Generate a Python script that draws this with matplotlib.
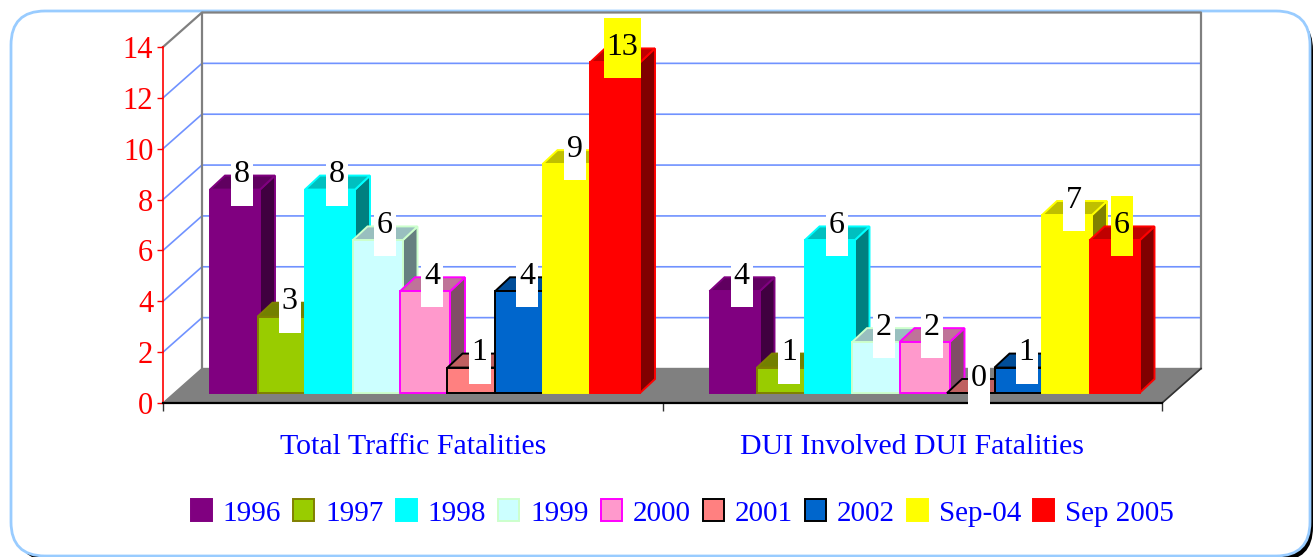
import matplotlib
matplotlib.use("Agg")
import matplotlib.pyplot as plt
from matplotlib.patches import FancyBboxPatch, Patch, Rectangle
from matplotlib.transforms import IdentityTransform

W, H = 1314, 557

categories = ["Total Traffic Fatalities", "DUI Involved DUI Fatalities"]
series_names = ["1996", "1997", "1998", "1999", "2000", "2001", "2002", "Sep-04", "Sep 2005"]
v1996 = [8, 4]
v1997 = [3, 1]
v1998 = [8, 6]
v1999 = [6, 2]
v2000 = [4, 2]
v2001 = [1, 0]
v2002 = [4, 1]
vsep04 = [9, 7]
vsep05 = [13, 6]
all_values = [v1996, v1997, v1998, v1999, v2000, v2001, v2002, vsep04, vsep05]
y_ticks = [0, 2, 4, 6, 8, 10, 12, 14]

# face, edge, top, side
colors = [
    ("#800080", "#800080", "#600060", "#400040"),
    ("#99CC00", "#808000", "#738000", "#4D6600"),
    ("#00FFFF", "#00FFFF", "#00BFBF", "#008080"),
    ("#CCFFFF", "#CCFFCC", "#99BFBF", "#668080"),
    ("#FF99CC", "#FF00FF", "#BF7399", "#804D66"),
    ("#FF8080", "#000000", "#BF6060", "#804040"),
    ("#0066CC", "#000000", "#004D99", "#003366"),
    ("#FFFF00", "#FFFF00", "#BFBF00", "#808000"),
    ("#FF0000", "#FF0000", "#BF0000", "#800000"),
]

plt.rcParams["font.family"] = ["Liberation Serif", "DejaVu Serif"]

fig = plt.figure(figsize=(W / 100, H / 100), dpi=100, facecolor="white")

# rounded frame with a black shadow, in pixels
shadow = FancyBboxPatch((17, -4), 1296, 545, boxstyle="round,pad=0,rounding_size=34",
                        fc="black", ec="black", lw=0, transform=IdentityTransform(), zorder=-2)
frame = FancyBboxPatch((11, 1), 1299, 545, boxstyle="round,pad=0,rounding_size=34",
                       fc="white", ec="#99CCFF", lw=2, transform=IdentityTransform(), zorder=-1)
fig.add_artist(shadow)
fig.add_artist(frame)

ax = fig.add_axes([163 / W, (H - 403) / H, 999 / W, 356 / H])
ax.set_xlim(0, 2)
ax.set_ylim(0, 14)
ax.patch.set_visible(False)

# pixel sizes turned into data units
px_x = 2 / 999
px_y = 14 / 356
wall_dx = 39 * px_x
wall_dy = 34.5 * px_y
base_dy = 10 * px_y
bar_dx = 15 * px_x
bar_dy = 14 * px_y
bar_w = 50 * px_x
bar_step = 47.5 * px_x
first_bar = 47 * px_x

# floor and walls
ax.fill([0, 2, 2 + wall_dx, wall_dx], [0, 0, wall_dy, wall_dy], color="#808080", zorder=1, clip_on=False)
for v in y_ticks[1:-1]:
    ax.plot([0, wall_dx, 2 + wall_dx], [v, v + wall_dy, v + wall_dy], color="#7092FF", lw=1.2,
            zorder=1, clip_on=False)
wall_top = 14 + wall_dy
ax.plot([0, wall_dx, 2 + wall_dx, 2 + wall_dx], [14, wall_top, wall_top, wall_dy], color="#808080",
        lw=1.6, zorder=1.5, clip_on=False)
ax.plot([wall_dx, wall_dx], [wall_dy, wall_top], color="#808080", lw=1.6, zorder=1.5, clip_on=False)
ax.plot([2, 2 + wall_dx], [0, wall_dy], color="#333333", lw=1.2, zorder=1.5, clip_on=False)

# bars, later series sit on top of earlier ones
for i, values in enumerate(all_values):
    face, edge, top, side = colors[i]
    z = 3 + i
    for c, v in enumerate(values):
        x0 = c + first_bar + i * bar_step
        x1 = x0 + bar_w
        y1 = base_dy + v
        ax.fill([x1, x1 + bar_dx, x1 + bar_dx, x1], [base_dy, base_dy + bar_dy, y1 + bar_dy, y1],
                fc=side, ec=edge, lw=1.4, zorder=z, clip_on=False)
        ax.fill([x0, x0 + bar_dx, x1 + bar_dx, x1], [y1, y1 + bar_dy, y1 + bar_dy, y1],
                fc=top, ec=edge, lw=1.4, zorder=z, clip_on=False)
        ax.bar(x0, v, width=bar_w, bottom=base_dy, align="edge", fc=face, ec=edge, lw=1.4,
               zorder=z, clip_on=False)

# data labels with their tall boxes
label_box_h = 60 * px_y
for i, values in enumerate(all_values):
    for c, v in enumerate(values):
        cx = c + first_bar + i * bar_step + bar_w / 2 + 7 * px_x
        top_y = base_dy + v
        box_w = (37 if v > 9 else 22) * px_x
        box_color = "#FFFF00" if i == 8 else "white"
        box_mid = top_y + 14 * px_y
        ax.add_patch(Rectangle((cx - box_w / 2, box_mid - label_box_h / 2), box_w, label_box_h,
                               fc=box_color, ec="none", zorder=20, clip_on=False))
        ax.text(cx, top_y + 15 * px_y, str(v), ha="center", va="center", fontsize=23, color="black",
                zorder=21, clip_on=False)

# axes
for name in ["top", "right"]:
    ax.spines[name].set_visible(False)
ax.spines["left"].set_color("#FF0000")
ax.spines["left"].set_linewidth(1.2)
ax.spines["bottom"].set_color("black")
ax.spines["bottom"].set_linewidth(1.6)
ax.spines["left"].set_zorder(2)
ax.spines["bottom"].set_zorder(2)

ax.set_yticks(y_ticks)
ax.set_yticklabels([str(t) for t in y_ticks])
ax.tick_params(axis="y", colors="#FF0000", labelsize=22, length=4, width=1, pad=3)

ax.set_xticks([0, 1, 2])
ax.set_xticklabels([])
ax.tick_params(axis="x", which="major", color="#333333", length=6, width=1)
ax.set_xticks([0.5, 1.5], minor=True)
ax.set_xticklabels(categories, minor=True)
ax.tick_params(axis="x", which="minor", length=0, labelsize=21.5, labelcolor="#0000FF", pad=22)

handles = [Patch(fc=c[0], ec=c[1], lw=1.4) for c in colors]
ax.legend(handles, series_names, ncol=9, frameon=False, loc="center",
          bbox_to_anchor=((682.5 - 163) / 999, (403 - 513) / 356), fontsize=21,
          labelcolor="#0000FF", handlelength=0.72, handleheight=0.78, handletextpad=0.38,
          columnspacing=0.41, borderpad=0, borderaxespad=0)

fig.savefig("out.png", dpi=100)
